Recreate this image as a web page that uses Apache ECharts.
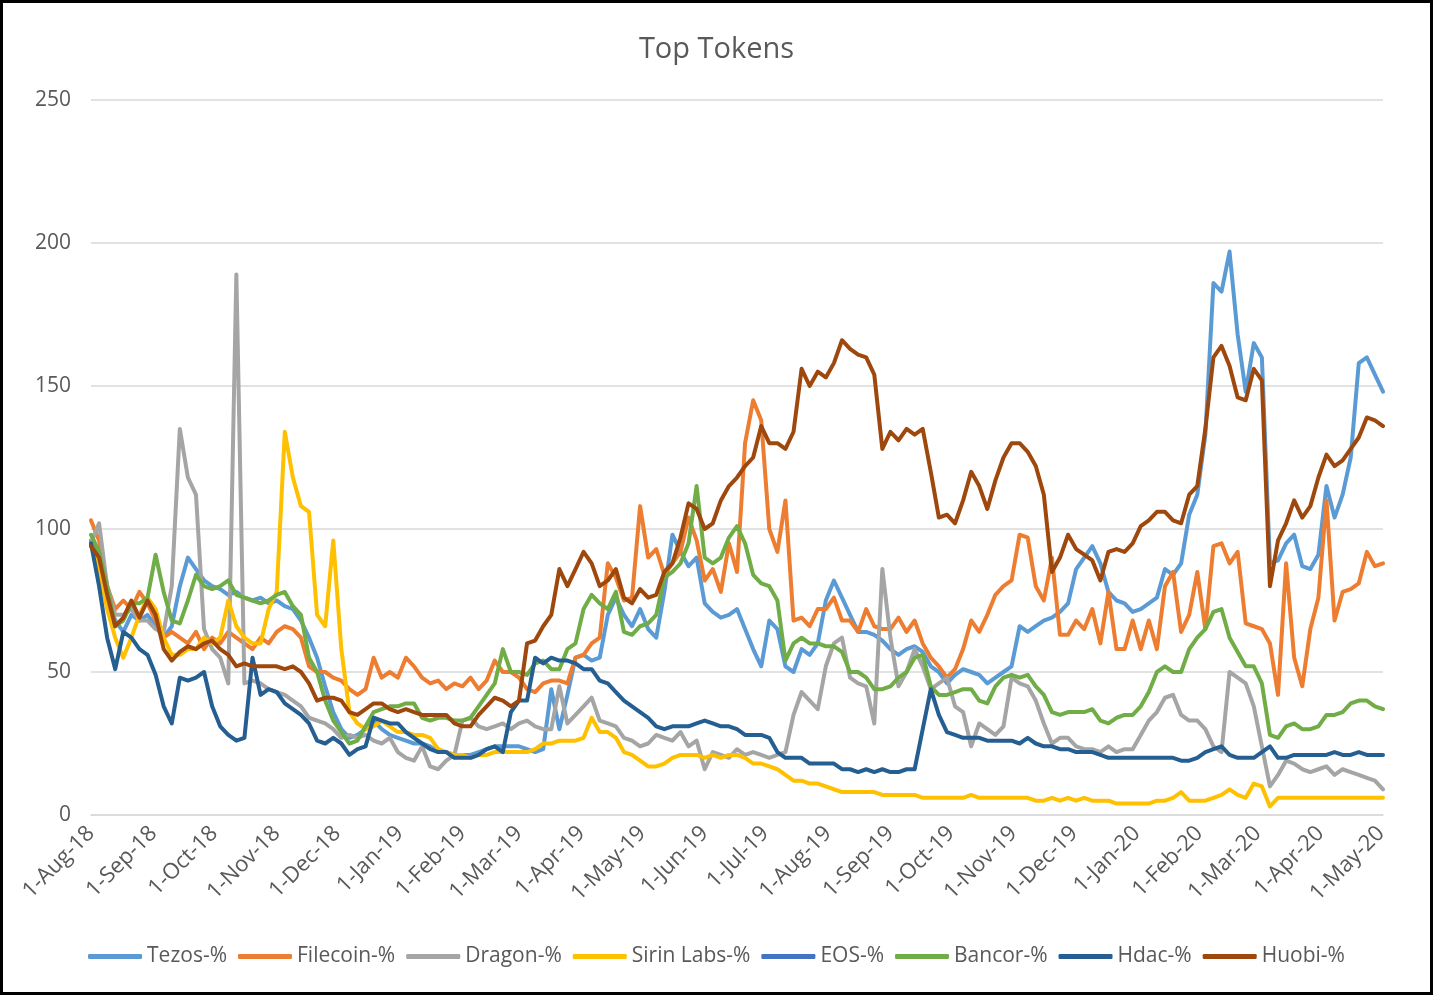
<!DOCTYPE html>
<html><head><meta charset="utf-8">
<script src="https://cdn.jsdelivr.net/npm/echarts@6/dist/echarts.min.js"></script>
<style>
html,body{margin:0;padding:0;background:#000;width:1433px;height:995px;overflow:hidden;}
#chart{position:absolute;left:3px;top:3px;width:1427px;height:989px;background:#fff;}
</style></head><body><div id="chart"></div>
<script>
// ---- data (values read every 4 days starting 1-Aug-18) ----
const startDate = [2018, 7, 1];   // 1-Aug-18
const totalDays = 640;            // through 2-May-20
const sampleStepDays = 4;
const monthNames = ['Jan','Feb','Mar','Apr','May','Jun','Jul','Aug','Sep','Oct','Nov','Dec'];
const seriesNames = ['Tezos-%','Filecoin-%','Dragon-%','Sirin Labs-%','EOS-%','Bancor-%','Hdac-%','Huobi-%'];
const seriesColors = ['#5B9BD5','#ED7D31','#A5A5A5','#FFC000','#4472C4','#70AD47','#255E91','#9E480E'];
const yTicks = [0, 50, 100, 150, 200, 250];

const tezos = [96,88,76,68,64,70,68,70, 66,62,66,80,90,86,82,80, 79,77,78,76,75,76,74, 75,73,72,68,62,55,45,36,
  30,27,28,30,33,30,28,27, 26,25,25,24,22,22,21, 21,21,22,23,24,24,24, 24,23,22,23,44,30,42,55,
  56,54,55,70,76,70,66,72, 65,62,78,98,92,87,90, 74,71,69,70,72,65,58,52, 68,65,52,50,58,56,60,75,
  82,76,70,64,64,63,61, 58,56,58,59,57,52,50,46, 49,51,50,49,46,48,50,52, 66,64,66,68,69,71,74,
  86,90,94,88,78,75,74,71, 72,74,76,86,84,88,105,112, 133,186,183,197,168,148,165, 160,88,89,95,98,87,86,91,
  115,104,112,125,158,160,154,148];
const filecoin = [103,96,80,72,75,72,78,74, 68,62,64,62,60,64,58,62, 60,64,62,60,58,62,60, 64,66,65,62,52,50,50,48,
  47,44,42,44,55,48,50,48, 55,52,48,46,47,44,46, 45,48,44,47,54,50,50, 48,44,43,46,47,47,46,55,
  56,60,62,88,83,75,76,108, 90,93,84,88,92,104,96, 82,86,78,95,85,130,145,138, 100,92,110,68,69,66,72,72,
  76,68,68,64,72,66,65, 65,69,64,68,60,55,52,48, 51,58,68,64,70,77,80,82, 98,97,80,75,90,63,63,
  68,65,72,60,78,58,58,68, 58,68,58,80,85,64,70,85, 65,94,95,88,92,67,66, 65,60,42,88,55,45,65,76,
  110,68,78,79,81,92,87,88];
const dragon = [95,102,80,70,70,72,68,68, 65,64,80,135,118,112,65,58, 55,46,189,46,47,46,44, 43,42,40,38,34,33,32,30,
  27,28,27,28,26,25,27,22, 20,19,24,17,16,19,21, 33,34,31,30,31,32,30, 32,33,31,30,30,45,32,35,
  38,41,33,32,31,27,26,24, 25,28,27,26,29,24,26, 16,22,21,20,23,21,22,21, 20,21,22,35,43,40,37,52,
  60,62,48,46,45,32,86, 62,45,50,58,52,44,46,48, 38,36,24,32,30,28,31,48, 46,45,40,32,25,27,27,
  24,23,23,22,24,22,23,23, 28,33,36,41,42,35,33,33, 30,24,22,50,48,46,38, 24,10,14,19,18,16,15,16,
  17,14,16,15,14,13,12,9];
const sirinLabs = [94,86,72,62,55,62,70,76, 72,62,56,56,58,58,62,60, 62,75,66,62,60,60,72, 78,134,118,108,106,70,66,96,
  58,36,32,30,31,33,31,29, 29,28,28,27,23,22,21, 21,20,21,21,22,22,22, 22,22,23,25,25,26,26,26,
  27,34,29,29,27,22,21,19, 17,17,18,20,21,21,21, 20,21,20,21,21,20,18,18, 17,16,14,12,12,11,11,10,
  9,8,8,8,8,8,7, 7,7,7,7,6,6,6,6, 6,6,7,6,6,6,6,6, 6,6,5,5,6,5,6,
  5,6,5,5,5,4,4,4, 4,4,5,5,6,8,5,5, 5,6,7,9,7,6,11, 10,3,6,6,6,6,6,6,
  6,6,6,6,6,6,6,6];
const eos = [];
const bancor = [98,92,80,66,68,74,74,76, 91,78,68,67,75,84,80,79, 80,82,77,76,75,74,75, 77,78,73,70,55,50,40,33,
  29,25,26,31,36,37,38,38, 39,39,34,33,34,34,33, 33,34,38,42,46,58,50, 50,49,53,54,51,51,58,60,
  72,77,74,72,78,64,63,66, 67,70,83,85,88,95,115, 90,88,90,97,101,95,84,81, 80,75,54,60,62,60,60,59,
  59,57,50,50,48,44,44, 45,48,50,55,56,45,42,42, 43,44,44,40,39,45,48,49, 48,49,45,42,36,35,36,
  36,36,37,33,32,34,35,35, 38,43,50,52,50,50,58,62, 65,71,72,62,57,52,52, 46,28,27,31,32,30,30,31,
  35,35,36,39,40,40,38,37];
const hdac = [95,80,62,51,64,62,58,56, 49,38,32,48,47,48,50,38, 31,28,26,27,55,42,44, 43,39,37,35,32,26,25,27,
  25,21,23,24,34,33,32,32, 29,27,25,23,22,22,20, 20,20,21,23,24,22,36, 40,40,55,53,55,54,54,53,
  51,51,47,46,43,40,38,36, 34,31,30,31,31,31,32, 33,32,31,31,30,28,28,28, 27,22,20,20,20,18,18,18,
  18,16,16,15,16,15,16, 15,15,16,16,30,44,35,29, 28,27,27,27,26,26,26,26, 25,27,25,24,24,23,23,
  22,22,22,21,20,20,20,20, 20,20,20,20,20,19,19,20, 22,23,24,21,20,20,20, 22,24,20,20,21,21,21,21,
  21,22,21,21,22,21,21,21];
const huobi = [94,90,77,66,69,75,69,75, 70,58,54,57,59,58,60,61, 58,56,52,53,52,52,52, 52,51,52,50,46,40,41,41,
  40,36,35,37,39,39,37,36, 37,36,35,35,35,35,32, 31,31,35,38,41,40,38, 40,60,61,66,70,86,80,86,
  92,88,80,82,86,76,74,79, 76,77,85,88,97,109,107, 100,102,110,115,118,122,125,136, 130,130,128,134,156,150,155,153,
  158,166,163,161,160,154,128, 134,131,135,133,135,120,104,105, 102,110,120,115,107,117,125,130, 130,127,122,112,85,90,98,
  93,91,89,82,92,93,92,95, 101,103,106,106,103,102,112,115, 135,160,164,157,146,145,156, 152,80,96,102,110,104,108,118,
  126,122,124,128,132,139,138,136];
const seriesValues = [tezos, filecoin, dragon, sirinLabs, eos, bancor, hdac, huobi];

// ---- build daily category axis ----
const dayLabels = [];
const isMonthStart = [];
for (let d = 0; d <= totalDays; d++) {
  const dt = new Date(Date.UTC(startDate[0], startDate[1], startDate[2] + d));
  const day = dt.getUTCDate();
  dayLabels.push(day + '-' + monthNames[dt.getUTCMonth()] + '-' + String(dt.getUTCFullYear()).slice(2));
  isMonthStart.push(day === 1);
}

const txt = '#595959';
const font = "'Open Sans', 'Liberation Sans', sans-serif";
const chart = echarts.init(document.getElementById('chart'), null, {renderer: 'canvas'});
chart.setOption({
  animation: false,
  backgroundColor: '#fff',
  title: {
    text: 'Top Tokens', left: 'center', top: 27,
    textStyle: {color: txt, fontFamily: font, fontSize: 29, fontWeight: 'normal'}
  },
  legend: {
    data: seriesNames, left: 'center', top: 938, itemGap: 11, itemWidth: 54, itemHeight: 5,
    icon: 'roundRect',
    textStyle: {color: txt, fontFamily: font, fontSize: 21}
  },
  grid: {left: 88, right: 47, top: 97, bottom: 177, containLabel: false},
  xAxis: {
    type: 'category', data: dayLabels, boundaryGap: false,
    axisLine: {show: true, lineStyle: {color: '#D9D9D9', width: 1.5}},
    axisTick: {show: false},
    splitLine: {show: false},
    axisLabel: {
      rotate: 45, margin: 15, color: txt, fontFamily: font, fontSize: 22,
      interval: (idx) => isMonthStart[idx], showMaxLabel: true, showMinLabel: true
    }
  },
  yAxis: {
    type: 'value', min: yTicks[0], max: yTicks[yTicks.length - 1], interval: 50,
    axisLine: {show: false}, axisTick: {show: false},
    splitLine: {lineStyle: {color: '#D9D9D9', width: 1.5}},
    axisLabel: {color: txt, fontFamily: font, fontSize: 21, margin: 20}
  },
  series: seriesNames.map((name, s) => ({
    name, type: 'line', showSymbol: false, symbol: 'none',
    color: seriesColors[s],
    lineStyle: {width: 4, color: seriesColors[s], cap: 'round', join: 'round'},
    data: seriesValues[s].map((v, i) => [dayLabels[i * sampleStepDays], v])
  }))
});
</script></body></html>
